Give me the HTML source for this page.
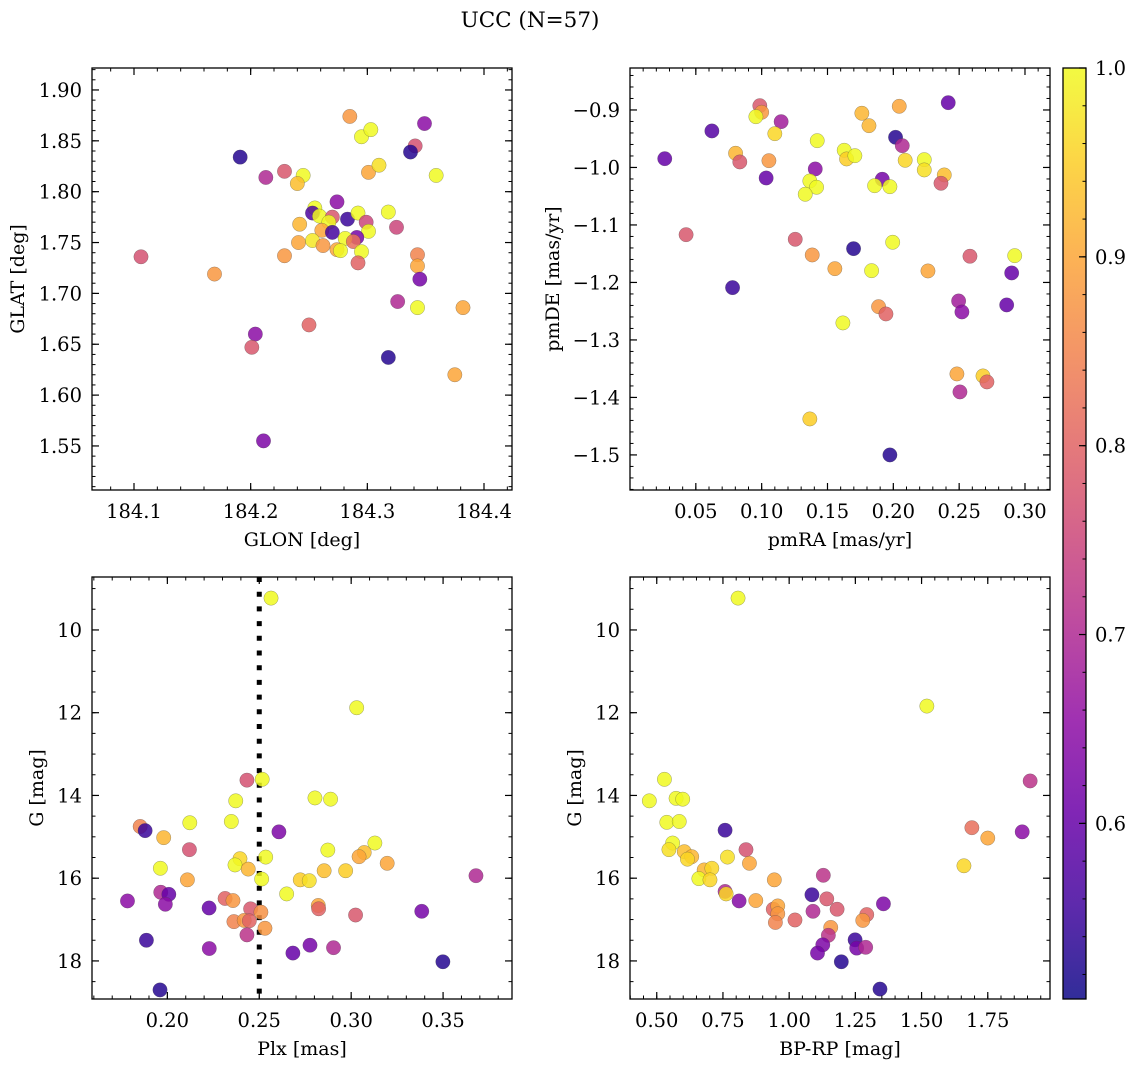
<!DOCTYPE html>
<html><head><meta charset="utf-8">
<style>
html,body{margin:0;padding:0;background:#fff;}
svg{display:block;font-family:"DejaVu Serif","Liberation Serif",serif;}
</style></head>
<body>
<svg id="fig" width="1136" height="1067" viewBox="0 0 1136 1067" xmlns="http://www.w3.org/2000/svg">
<text x="530" y="27" font-size="21.5" text-anchor="middle">UCC (N=57)</text>
</svg>
<script>
// ---------- Panel 1: GLON / GLAT ----------
const p1Glon = [184.285,184.295,184.303,184.349,184.341,184.337,184.191,184.213,184.229,184.245,184.240,184.301,184.310,184.359,184.274,184.255,184.253,184.259,184.270,184.267,184.283,184.292,184.299,184.301,184.318,184.325,184.242,184.261,184.270,184.291,184.281,184.288,184.241,184.253,184.262,184.274,184.277,184.295,184.292,184.229,184.343,184.343,184.345,184.326,184.343,184.382,184.106,184.169,184.250,184.204,184.201,184.318,184.375,184.211];
const p1Glat = [1.874,1.854,1.861,1.867,1.845,1.839,1.834,1.814,1.820,1.816,1.808,1.819,1.826,1.816,1.790,1.784,1.779,1.776,1.775,1.770,1.773,1.779,1.770,1.761,1.780,1.765,1.768,1.762,1.760,1.755,1.754,1.751,1.750,1.752,1.747,1.743,1.742,1.741,1.730,1.737,1.738,1.727,1.714,1.692,1.686,1.686,1.736,1.719,1.669,1.660,1.647,1.637,1.620,1.555];
const p1Prob = [0.88,1.0,1.0,0.65,0.77,0.53,0.53,0.70,0.78,1.0,0.93,0.9,0.97,1.0,0.65,1.0,0.57,1.0,0.78,1.0,0.55,1.0,0.75,1.0,1.0,0.75,0.92,0.9,0.56,0.62,1.0,0.82,0.9,0.98,0.88,0.9,1.0,1.0,0.8,0.88,0.85,0.9,0.62,0.7,1.0,0.9,0.77,0.88,0.8,0.65,0.78,0.53,0.9,0.63];
const p1XTicks = [184.1,184.2,184.3,184.4];
const p1XTickLabels = ["184.1","184.2","184.3","184.4"];
const p1YTicks = [1.55,1.60,1.65,1.70,1.75,1.80,1.85,1.90];
const p1YTickLabels = ["1.55","1.60","1.65","1.70","1.75","1.80","1.85","1.90"];

// ---------- Panel 2: pmRA / pmDE ----------
const p2PmRA = [0.0986,0.1,0.0956,0.1148,0.0622,0.110,0.2417,0.2045,0.1761,0.1815,0.2017,0.2068,0.1422,0.0264,0.0802,0.0834,0.1055,0.1034,0.1627,0.1645,0.1708,0.2090,0.2235,0.2235,0.2387,0.2362,0.1407,0.1366,0.1417,0.1331,0.1916,0.1858,0.1974,0.0426,0.1255,0.1384,0.1698,0.1995,0.1556,0.1835,0.2263,0.2582,0.2922,0.2899,0.0779,0.2496,0.2861,0.1888,0.1944,0.2521,0.1617,0.2483,0.2506,0.2681,0.2711,0.1366,0.1974];
const p2PmDE = [-0.8925,-0.904,-0.9117,-0.9203,-0.9365,-0.9412,-0.8873,-0.8936,-0.9057,-0.9273,-0.9475,-0.9621,-0.9534,-0.9847,-0.9753,-0.9904,-0.9882,-1.0183,-0.9701,-0.9852,-0.9795,-0.9875,-0.9864,-1.0043,-1.0130,-1.0275,-1.0026,-1.0235,-1.0344,-1.0466,-1.0205,-1.0317,-1.0334,-1.1169,-1.1249,-1.1522,-1.1412,-1.1301,-1.176,-1.1795,-1.180,-1.1544,-1.1534,-1.1835,-1.209,-1.2322,-1.2391,-1.2421,-1.2548,-1.2513,-1.2704,-1.3591,-1.3904,-1.3626,-1.3730,-1.4374,-1.500];
const p2Prob = [0.78,0.88,1.0,0.68,0.58,0.96,0.6,0.9,0.92,0.92,0.53,0.7,1.0,0.6,0.92,0.78,0.88,0.6,1.0,0.95,1.0,0.96,1.0,0.97,0.93,0.78,0.65,1.0,1.0,1.0,0.62,1.0,1.0,0.78,0.78,0.88,0.53,1.0,0.9,1.0,0.9,0.78,1.0,0.6,0.55,0.68,0.6,0.88,0.8,0.65,1.0,0.9,0.7,0.95,0.8,0.95,0.53];
const p2XTicks = [0.05,0.10,0.15,0.20,0.25,0.30];
const p2XTickLabels = ["0.05","0.10","0.15","0.20","0.25","0.30"];
const p2YTicks = [-0.9,-1.0,-1.1,-1.2,-1.3,-1.4,-1.5];
const p2YTickLabels = ["\u22120.9","\u22121.0","\u22121.1","\u22121.2","\u22121.3","\u22121.4","\u22121.5"];

// ---------- Panel 3: Plx / G ----------
const p3Plx = [0.2433,0.2516,0.2372,0.2803,0.2888,0.2122,0.2348,0.1852,0.1879,0.2607,0.1980,0.3129,0.2120,0.2873,0.2535,0.3071,0.3043,0.3196,0.1962,0.2395,0.2368,0.2440,0.2853,0.2970,0.2513,0.2723,0.2772,0.2109,0.2649,0.1964,0.2008,0.1989,0.1783,0.2314,0.2357,0.2227,0.2821,0.2823,0.2453,0.2509,0.3024,0.2362,0.2418,0.2446,0.2531,0.2433,0.1886,0.2228,0.2683,0.2776,0.2904,0.2564,0.303,0.3679,0.3499,0.3384,0.196];
const p3G = [13.63,13.61,14.13,14.06,14.09,14.66,14.63,14.75,14.85,14.88,15.02,15.15,15.31,15.32,15.49,15.38,15.48,15.64,15.76,15.53,15.68,15.78,15.82,15.82,16.02,16.04,16.06,16.04,16.38,16.34,16.39,16.63,16.55,16.49,16.54,16.72,16.66,16.74,16.74,16.82,16.89,17.05,17.02,17.03,17.21,17.37,17.50,17.70,17.81,17.62,17.68,9.23,11.88,15.94,18.02,16.80,18.70];
const p3Prob = [0.77,1.0,1.0,1.0,1.0,1.0,1.0,0.85,0.55,0.63,0.92,1.0,0.77,1.0,1.0,0.93,0.9,0.9,1.0,0.96,1.0,0.92,0.93,0.95,1.0,0.95,0.97,0.9,1.0,0.7,0.6,0.65,0.65,0.8,0.88,0.6,0.9,0.8,0.78,0.87,0.78,0.85,0.88,0.8,0.88,0.72,0.55,0.65,0.6,0.62,0.7,1.0,1.0,0.7,0.53,0.62,0.53];
const p3XTicks = [0.20,0.25,0.30,0.35];
const p3XTickLabels = ["0.20","0.25","0.30","0.35"];
const p3PlxRef = [0.25];

// ---------- Panel 4: BP-RP / G ----------
const p4BPRP = [0.529,0.472,0.573,0.598,0.538,0.585,0.758,0.560,0.546,0.837,0.604,0.632,0.616,0.767,0.850,0.679,0.708,0.659,0.701,0.944,1.129,0.758,0.762,0.811,0.874,1.086,1.142,1.181,0.940,0.957,0.957,1.090,1.356,1.022,0.948,1.157,1.148,1.293,1.278,1.249,1.127,1.107,1.255,1.289,1.197,1.343,0.807,1.52,1.910,1.69,1.75,1.66,1.88];
const p4G = [13.61,14.13,14.07,14.09,14.65,14.63,14.84,15.15,15.31,15.31,15.36,15.48,15.54,15.49,15.64,15.80,15.76,16.01,16.04,16.04,15.93,16.32,16.38,16.55,16.54,16.40,16.50,16.75,16.75,16.67,16.86,16.80,16.62,17.01,17.07,17.19,17.38,16.88,17.02,17.49,17.61,17.81,17.69,17.67,18.02,18.68,9.23,11.84,13.65,14.78,15.03,15.70,14.88];
const p4Prob = [1.0,1.0,1.0,1.0,1.0,1.0,0.55,1.0,0.97,0.77,0.93,0.92,0.96,0.97,0.9,0.92,0.96,1.0,0.96,0.9,0.72,0.7,0.96,0.64,0.9,0.55,0.78,0.78,0.8,0.9,0.88,0.7,0.63,0.8,0.85,0.88,0.72,0.8,0.88,0.55,0.63,0.62,0.62,0.7,0.53,0.53,1.0,1.0,0.72,0.82,0.9,0.96,0.65];
const p4XTicks = [0.50,0.75,1.00,1.25,1.50,1.75];
const p4XTickLabels = ["0.50","0.75","1.00","1.25","1.50","1.75"];

const gTicks = [10,12,14,16,18];
const gTickLabels = ["10","12","14","16","18"];
const cbTicks = [0.6,0.7,0.8,0.9,1.0];
const cbTickLabels = ["0.6","0.7","0.8","0.9","1.0"];
const probMin = 0.507, probMax = 1.0;

const NS = "http://www.w3.org/2000/svg";
const svg = document.getElementById("fig");
function mk(tag, attrs, parent) {
  const e = document.createElementNS(NS, tag);
  for (const k in attrs) e.setAttribute(k, attrs[k]);
  (parent || svg).appendChild(e);
  return e;
}
const stops = ["#0d0887","#41049d","#6a00a8","#8f0da4","#b12a90","#cc4778","#e16462","#f2844b","#fca636","#fcce25","#f0f921"];
function hex(h){return [parseInt(h.substr(1,2),16),parseInt(h.substr(3,2),16),parseInt(h.substr(5,2),16)];}
function plasma(t){
  t = Math.max(0, Math.min(1, t));
  const f = t*10, i = Math.min(9, Math.floor(f)), r = f - i;
  const a = hex(stops[i]), b = hex(stops[i+1]);
  return "rgb(" + a.map((v,k)=>Math.round(v+(b[k]-v)*r)).join(",") + ")";
}
function probColor(p){ return plasma((p-probMin)/(probMax-probMin)); }

function lin(d0,d1,r0,r1){ return v => r0 + (v-d0)*(r1-r0)/(d1-d0); }

function minorVals(lo, hi, step){
  const out = [];
  const s = Math.ceil(lo/step - 1e-9);
  for (let k = s; k*step <= hi + 1e-9; k++) out.push(+(k*step).toFixed(6));
  return out;
}

const TICKFS = 19.5, LABFS = 19;

function panel(cfg){
  const g = mk("g", {});
  
  
  const L=cfg.x0,R=cfg.x1,T=cfg.y0,B=cfg.y1;
  const sx = lin(cfg.xd[0],cfg.xd[1],L,R);
  const sy = lin(cfg.yd[0],cfg.yd[1],T,B);
  const clipId = cfg.name + "-clip";
  const cp = mk("clipPath",{id:clipId},g);
  mk("rect",{x:L,y:T,width:R-L,height:B-T},cp);
  const pts = mk("g",{"clip-path":"url(#"+clipId+")"},g);
  
  
  if (cfg.vline) {
    for (const v of cfg.vline) {
      const ln = mk("line",{x1:sx(v),x2:sx(v),y1:T,y2:B,stroke:"#000","stroke-width":5,"stroke-dasharray":"5 9.7"},pts);
      
      
    }
  }
  for (let i=0;i<cfg.xs.length;i++){
    const c = mk("circle",{cx:sx(cfg.xs[i]),cy:sy(cfg.ys[i]),r:7.2,fill:probColor(cfg.cs[i]),"fill-opacity":0.85,stroke:"#444","stroke-width":0.5,"stroke-opacity":0.5},pts);
    
    
  }
  const fr = mk("rect",{x:L,y:T,width:R-L,height:B-T,fill:"none",stroke:"#000","stroke-width":1.3},g);
  
  
  const lo = Math.min(cfg.xd[0],cfg.xd[1]), hi = Math.max(cfg.xd[0],cfg.xd[1]);
  for (const v of minorVals(lo,hi,cfg.xminor)){
    const x = sx(v);
    mk("line",{x1:x,x2:x,y1:B,y2:B-3.5,stroke:"#000","stroke-width":1},g);
    mk("line",{x1:x,x2:x,y1:T,y2:T+3.5,stroke:"#000","stroke-width":1},g);
  }
  cfg.xt.forEach((v,i)=>{
    const x = sx(v);
    mk("line",{x1:x,x2:x,y1:B,y2:B-7,stroke:"#000","stroke-width":1.2},g);
    mk("line",{x1:x,x2:x,y1:T,y2:T+7,stroke:"#000","stroke-width":1.2},g);
    const t = mk("text",{x:x,y:B+28,"font-size":TICKFS,"text-anchor":"middle"},g);
    t.textContent = cfg.xtl[i];
    
    
  });
  const ylo = Math.min(cfg.yd[0],cfg.yd[1]), yhi = Math.max(cfg.yd[0],cfg.yd[1]);
  for (const v of minorVals(ylo,yhi,cfg.yminor)){
    const y = sy(v);
    mk("line",{x1:L,x2:L+3.5,y1:y,y2:y,stroke:"#000","stroke-width":1},g);
    mk("line",{x1:R,x2:R-3.5,y1:y,y2:y,stroke:"#000","stroke-width":1},g);
  }
  cfg.yt.forEach((v,i)=>{
    const y = sy(v);
    mk("line",{x1:L,x2:L+7,y1:y,y2:y,stroke:"#000","stroke-width":1.2},g);
    mk("line",{x1:R,x2:R-7,y1:y,y2:y,stroke:"#000","stroke-width":1.2},g);
    const t = mk("text",{x:L-10,y:y+7,"font-size":TICKFS,"text-anchor":"end"},g);
    t.textContent = cfg.ytl[i];
    
    
  });
  const xl = mk("text",{x:(L+R)/2,y:B+56,"font-size":LABFS,"text-anchor":"middle"},g);
  xl.textContent = cfg.xlabel;
  
  
  const yl = mk("text",{x:0,y:0,"font-size":LABFS,"text-anchor":"middle",transform:"translate("+cfg.ylx+","+((T+B)/2)+") rotate(-90)"},g);
  yl.textContent = cfg.ylabel;
  
  
}

panel({name:"glon-glat-panel",x0:92,x1:512,y0:68,y1:490,xd:[184.064,184.424],yd:[1.9216,1.5067],
  xs:p1Glon,ys:p1Glat,cs:p1Prob,xt:p1XTicks,xtl:p1XTickLabels,yt:p1YTicks,ytl:p1YTickLabels,
  xminor:0.02,yminor:0.01,xlabel:"GLON [deg]",ylabel:"GLAT [deg]",ylx:24});
panel({name:"pmra-pmde-panel",x0:630,x1:1050,y0:68,y1:490,xd:[0.0,0.319],yd:[-0.827,-1.561],
  xs:p2PmRA,ys:p2PmDE,cs:p2Prob,xt:p2XTicks,xtl:p2XTickLabels,yt:p2YTicks,ytl:p2YTickLabels,
  xminor:0.01,yminor:0.02,xlabel:"pmRA [mas/yr]",ylabel:"pmDE [mas/yr]",ylx:559});
panel({name:"plx-g-panel",x0:92,x1:512,y0:577,y1:999,xd:[0.159,0.3875],yd:[8.72,18.92],
  xs:p3Plx,ys:p3G,cs:p3Prob,xt:p3XTicks,xtl:p3XTickLabels,yt:gTicks,ytl:gTickLabels,
  xminor:0.01,yminor:0.5,xlabel:"Plx [mas]",ylabel:"G [mag]",ylx:43,vline:p3PlxRef});
panel({name:"bprp-g-panel",x0:630,x1:1050,y0:577,y1:999,xd:[0.399,1.985],yd:[8.72,18.92],
  xs:p4BPRP,ys:p4G,cs:p4Prob,xt:p4XTicks,xtl:p4XTickLabels,yt:gTicks,ytl:gTickLabels,
  xminor:0.05,yminor:0.5,xlabel:"BP-RP [mag]",ylabel:"G [mag]",ylx:581});

// ---------- Colorbar ----------
(function(){
  const L=1063,R=1086,T=68,B=999;
  const g = mk("g",{});
  
  
  const defs = mk("defs",{},g);
  const lg = mk("linearGradient",{id:"cbgrad",x1:0,y1:1,x2:0,y2:0},defs);
  for (let i=0;i<=20;i++){
    mk("stop",{offset:(i/20),"stop-color":plasma(i/20),"stop-opacity":0.85},lg);
  }
  mk("rect",{x:L,y:T,width:R-L,height:B-T,fill:"url(#cbgrad)"},g);
  const fr = mk("rect",{x:L,y:T,width:R-L,height:B-T,fill:"none",stroke:"#000","stroke-width":1.3},g);
  
  
  const sy = lin(probMin,probMax,B,T);
  for (const v of minorVals(probMin,probMax,0.02)){
    const y = sy(v);
    mk("line",{x1:R,x2:R-3.5,y1:y,y2:y,stroke:"#000","stroke-width":1},g);
  }
  cbTicks.forEach((v,i)=>{
    const y = sy(v);
    mk("line",{x1:R,x2:R-7,y1:y,y2:y,stroke:"#000","stroke-width":1.2},g);
    const t = mk("text",{x:R+9,y:y+7,"font-size":TICKFS},g);
    t.textContent = cbTickLabels[i];
    
    
  });
})();
</script>
</body></html>
